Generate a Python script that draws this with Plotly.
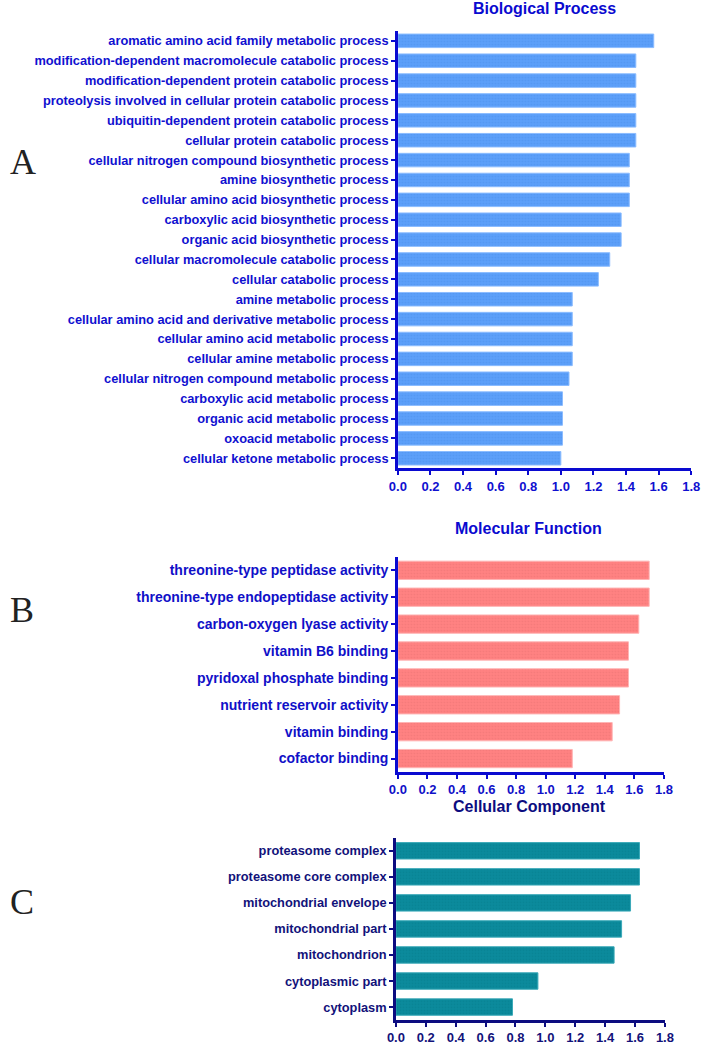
import plotly.graph_objects as go

W, H = 709, 1045

bp_terms = [
    "aromatic amino acid family metabolic process",
    "modification-dependent macromolecule catabolic process",
    "modification-dependent protein catabolic process",
    "proteolysis involved in cellular protein catabolic process",
    "ubiquitin-dependent protein catabolic process",
    "cellular protein catabolic process",
    "cellular nitrogen compound biosynthetic process",
    "amine biosynthetic process",
    "cellular amino acid biosynthetic process",
    "carboxylic acid biosynthetic process",
    "organic acid biosynthetic process",
    "cellular macromolecule catabolic process",
    "cellular catabolic process",
    "amine metabolic process",
    "cellular amino acid and derivative metabolic process",
    "cellular amino acid metabolic process",
    "cellular amine metabolic process",
    "cellular nitrogen compound metabolic process",
    "carboxylic acid metabolic process",
    "organic acid metabolic process",
    "oxoacid metabolic process",
    "cellular ketone metabolic process",
]
bp_values = [1.57, 1.46, 1.46, 1.46, 1.46, 1.46, 1.42, 1.42, 1.42, 1.37, 1.37,
             1.30, 1.23, 1.07, 1.07, 1.07, 1.07, 1.05, 1.01, 1.01, 1.01, 1.00]

mf_terms = [
    "threonine-type peptidase activity",
    "threonine-type endopeptidase activity",
    "carbon-oxygen lyase activity",
    "vitamin B6 binding",
    "pyridoxal phosphate binding",
    "nutrient reservoir activity",
    "vitamin binding",
    "cofactor binding",
]
mf_values = [1.70, 1.70, 1.63, 1.56, 1.56, 1.50, 1.45, 1.18]

cc_terms = [
    "proteasome complex",
    "proteasome core complex",
    "mitochondrial envelope",
    "mitochondrial part",
    "mitochondrion",
    "cytoplasmic part",
    "cytoplasm",
]
cc_values = [1.63, 1.63, 1.57, 1.51, 1.46, 0.95, 0.78]

x_ticks = [0.0, 0.2, 0.4, 0.6, 0.8, 1.0, 1.2, 1.4, 1.6, 1.8]

panels = [
    dict(terms=bp_terms, values=bp_values, title="Biological Process",
         x0=399, x1=700, ytop=31, ybot=470, width=0.68,
         fill="#5c9ff9", line="#8bbcff", pfg="#4a8ee8", axis="#0a0ad0",
         ylab="#1010d0", fs=12.8, title_x=549, title_y=9, letter="A", letter_y=163),
    dict(terms=mf_terms, values=mf_values, title="Molecular Function",
         x0=399, x1=672, ytop=559, ybot=775, width=0.68,
         fill="#ff8282", line="#ffb4b4", pfg="#e77070", axis="#0a0ad0",
         ylab="#1010c8", fs=14, title_x=533, title_y=531, letter="B", letter_y=612),
    dict(terms=cc_terms, values=cc_values, title="Cellular Component",
         x0=397, x1=673, ytop=841, ybot=1024, width=0.63,
         fill="#0b8a9c", line="#3aa9b8", pfg="#06798a", axis="#0c0c80",
         ylab="#12127a", fs=12.8, title_x=534, title_y=810, letter="C", letter_y=905),
]

fig = go.Figure()
layout = dict(width=W, height=H, margin=dict(l=0, r=0, t=0, b=0),
              paper_bgcolor="white", plot_bgcolor="white", showlegend=False,
              annotations=[])

for i, p in enumerate(panels, start=1):
    xa = "x" if i == 1 else f"x{i}"
    ya = "y" if i == 1 else f"y{i}"
    fig.add_trace(go.Bar(
        x=p["values"], y=p["terms"], orientation="h", xaxis=xa, yaxis=ya,
        width=p["width"],
        marker=dict(color=p["fill"], line=dict(color=p["line"], width=1),
                    pattern=dict(shape=".", size=3, solidity=0.25,
                                 fgcolor=p["pfg"], fgopacity=0.5)),
        hoverinfo="skip",
    ))
    n = len(p["terms"])
    xkey = "xaxis" if i == 1 else f"xaxis{i}"
    ykey = "yaxis" if i == 1 else f"yaxis{i}"
    layout[xkey] = dict(
        domain=[p["x0"] / W, p["x1"] / W], anchor=ya, range=[0, 1.8],
        tickvals=x_ticks, ticktext=[f"{v:.1f}" for v in x_ticks],
        showline=True, linecolor=p["axis"], linewidth=2.5,
        ticks="outside", ticklen=4, tickwidth=2, tickcolor=p["axis"],
        showgrid=False, zeroline=False,
        tickfont=dict(family="Arial, Liberation Sans, sans-serif", size=13,
                      color=p["ylab"], weight="bold"),
        fixedrange=True,
    )
    layout[ykey] = dict(
        domain=[1 - p["ybot"] / H, 1 - p["ytop"] / H], anchor=xa,
        type="category", categoryorder="array", categoryarray=p["terms"],
        range=[n - 0.5, -0.5],
        showline=True, linecolor=p["axis"], linewidth=2.5,
        ticks="outside", ticklen=4, tickwidth=2, tickcolor=p["axis"],
        ticklabelstandoff=0,
        showgrid=False, zeroline=False,
        tickfont=dict(family="Arial, Liberation Sans, sans-serif", size=p["fs"],
                      color=p["ylab"], weight="bold"),
        fixedrange=True,
    )
    layout["annotations"].append(dict(
        text=f"<b>{p['title']}</b>", xref="paper", yref="paper",
        x=p["title_x"] / W, y=1 - p["title_y"] / H, xanchor="center", yanchor="middle",
        showarrow=False,
        font=dict(family="Arial, Liberation Sans, sans-serif", size=16, color=p["axis"]),
    ))
    layout["annotations"].append(dict(
        text=p["letter"], xref="paper", yref="paper",
        x=0, y=1 - p["letter_y"] / H, xanchor="left", yanchor="middle",
        showarrow=False, borderpad=0,
        font=dict(family="Liberation Serif, Times New Roman, serif", size=36, color="#222222"),
    ))

fig.update_layout(**layout)
fig.write_html("out.html", config={"displayModeBar": False},
               post_script="document.body.style.margin='0px';document.body.style.overflow='hidden';")
